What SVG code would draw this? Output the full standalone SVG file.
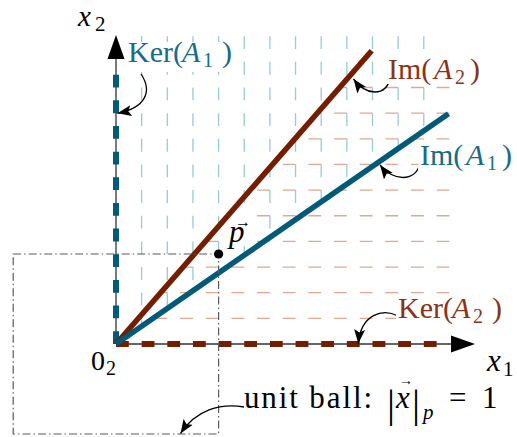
<svg xmlns="http://www.w3.org/2000/svg" width="517" height="437" viewBox="0 0 517 437">
<style>
.t{font-family:"Liberation Serif","Times New Roman",serif;}
.i{font-style:italic;}
.n{font-style:normal;}
.blue{fill:#1b6a88;}
.red{fill:#8a3318;}
.gv{stroke:#96cbdc;stroke-width:1.3;stroke-dasharray:12.825 12.825;fill:none;}
.gh{stroke:#e2a890;stroke-width:1.3;stroke-dasharray:12.825 12.825;fill:none;}
.ax{stroke:#333;stroke-width:1.3;fill:none;}
.lab{stroke:#000;stroke-width:1.3;fill:none;marker-end:url(#ah);}
.bg{fill:#fff;}
</style>
<defs>
<marker id="ah" markerWidth="16" markerHeight="12" refX="14" refY="6" orient="auto" markerUnits="userSpaceOnUse" viewBox="0 0 16 12"><path d="M0,0.5 L14,6 L0,11.5 L3,6 Z" fill="#000"/></marker>
</defs>
<g id="grid-ker1">
<path class="gv" d="M141.65,36.2V326.23M167.3,36.2V308.46M192.95,36.2V290.69M218.6,36.2V272.92M244.25,36.2V255.15M269.9,36.2V237.38M295.55,36.2V219.61M321.2,36.2V201.84M346.85,36.2V184.07M372.5,36.2V166.3M398.15,36.2V148.53M423.8,36.2V130.76"/>
</g>
<g id="grid-ker2">
<path class="gh" d="M449.45,318.35H138.36M449.45,292.7H160.73M449.45,267.05H183.09M449.45,241.4H205.45M449.45,215.75H227.82M449.45,190.1H250.18M449.45,164.45H272.54M449.45,138.8H294.9M449.45,113.15H317.27M449.45,87.5H339.63"/>
</g>
<g id="axes">
<path class="ax" d="M116,344H456"/>
<polygon points="451,335.5 475,344 451,352.5" fill="#000"/>
<path class="ax" d="M116,344V55"/>
<polygon points="107.5,59 116,35 124.5,59" fill="#000"/>
</g>
<g id="point-p">
<rect class="bg" x="229" y="214" width="25" height="32"/>
<text class="t i" x="229" y="242" font-size="31">p<tspan class="n" x="235" y="227" font-size="16">→</tspan></text>
</g>
<g id="ker-lines">
<path d="M116,344V74" stroke="#005a78" stroke-width="6" stroke-dasharray="12.825 12.825" fill="none"/>
<path d="M116,344H437" stroke="#731e00" stroke-width="5.8" stroke-dasharray="12.825 12.825" fill="none"/>
</g>
<g id="im-lines">
<path d="M116,344L371.7,50.7" stroke="#731e00" stroke-width="5.5" fill="none"/>
<path d="M116,344L448.5,113.7" stroke="#005a78" stroke-width="5.5" fill="none"/>
</g>
<g id="unit-ball">
<rect x="13.2" y="254" width="205.4" height="180" fill="none" stroke="#5a5a5a" stroke-width="1.2" stroke-dasharray="8 3 1.5 3"/>
</g>
<circle id="p-dot" cx="218.6" cy="254" r="4.6" fill="#000"/>
<g id="connectors">
<path class="lab" d="M141,74C153,92 145,108 117.5,113.3"/>
<path class="lab" d="M390,78C386,97 366,96 353.5,79"/>
<path class="lab" d="M420,163C416,183 392,181 380,165"/>
<path class="lab" d="M398,316C383,308 361,314 358.3,343.5"/>
<path class="lab" d="M244,407C220,403 196,410 180.5,433.5"/>
</g>
<g id="label-x2">
<text class="t i" x="78" y="26" font-size="29">x<tspan class="n" x="95" y="31" font-size="21">2</tspan></text>
</g>
<g id="label-x1">
<text class="t i" x="487" y="371" font-size="31">x<tspan class="n" x="503" y="376" font-size="21">1</tspan></text>
</g>
<g id="label-origin">
<text class="t" x="91" y="370" font-size="28">0<tspan x="106" y="375" font-size="20">2</tspan></text>
</g>
<g id="label-ker1">
<rect class="bg" x="127" y="42" width="108" height="30"/>
<text class="t blue" x="128" y="62" font-size="30">Ker(<tspan class="i" x="182">A</tspan><tspan x="203" y="66.5" font-size="20">1</tspan><tspan x="222" y="62">)</tspan></text>
</g>
<g id="label-im2">
<rect class="bg" x="386" y="52" width="97" height="32"/>
<text class="t red" x="388" y="79" font-size="30">Im(<tspan class="i" x="434">A</tspan><tspan x="455" y="83.5" font-size="20">2</tspan><tspan x="470" y="79">)</tspan></text>
</g>
<g id="label-im1">
<rect class="bg" x="418" y="142" width="97" height="31"/>
<text class="t blue" x="420" y="165" font-size="30">Im(<tspan class="i" x="466">A</tspan><tspan x="487" y="169.5" font-size="20">1</tspan><tspan x="502" y="165">)</tspan></text>
</g>
<g id="label-ker2">
<rect class="bg" x="396" y="296" width="108" height="30"/>
<text class="t red" x="398" y="318" font-size="30">Ker(<tspan class="i" x="452">A</tspan><tspan x="473" y="322.5" font-size="20">2</tspan><tspan x="492" y="318">)</tspan></text>
</g>
<g id="label-unit-ball">
<text class="t" x="244" y="408" font-size="31" textLength="128" lengthAdjust="spacing">unit ball:</text>
<text class="t" x="387" y="417" font-size="40">|<tspan class="i" x="396" y="408" font-size="31">x</tspan><tspan x="399" y="385" font-size="14">→</tspan><tspan x="412" y="417">|</tspan><tspan class="i" x="423" y="419" font-size="21">p</tspan><tspan x="449" y="408" font-size="31">=</tspan><tspan x="482" y="408" font-size="31">1</tspan></text>
</g>
</svg>
